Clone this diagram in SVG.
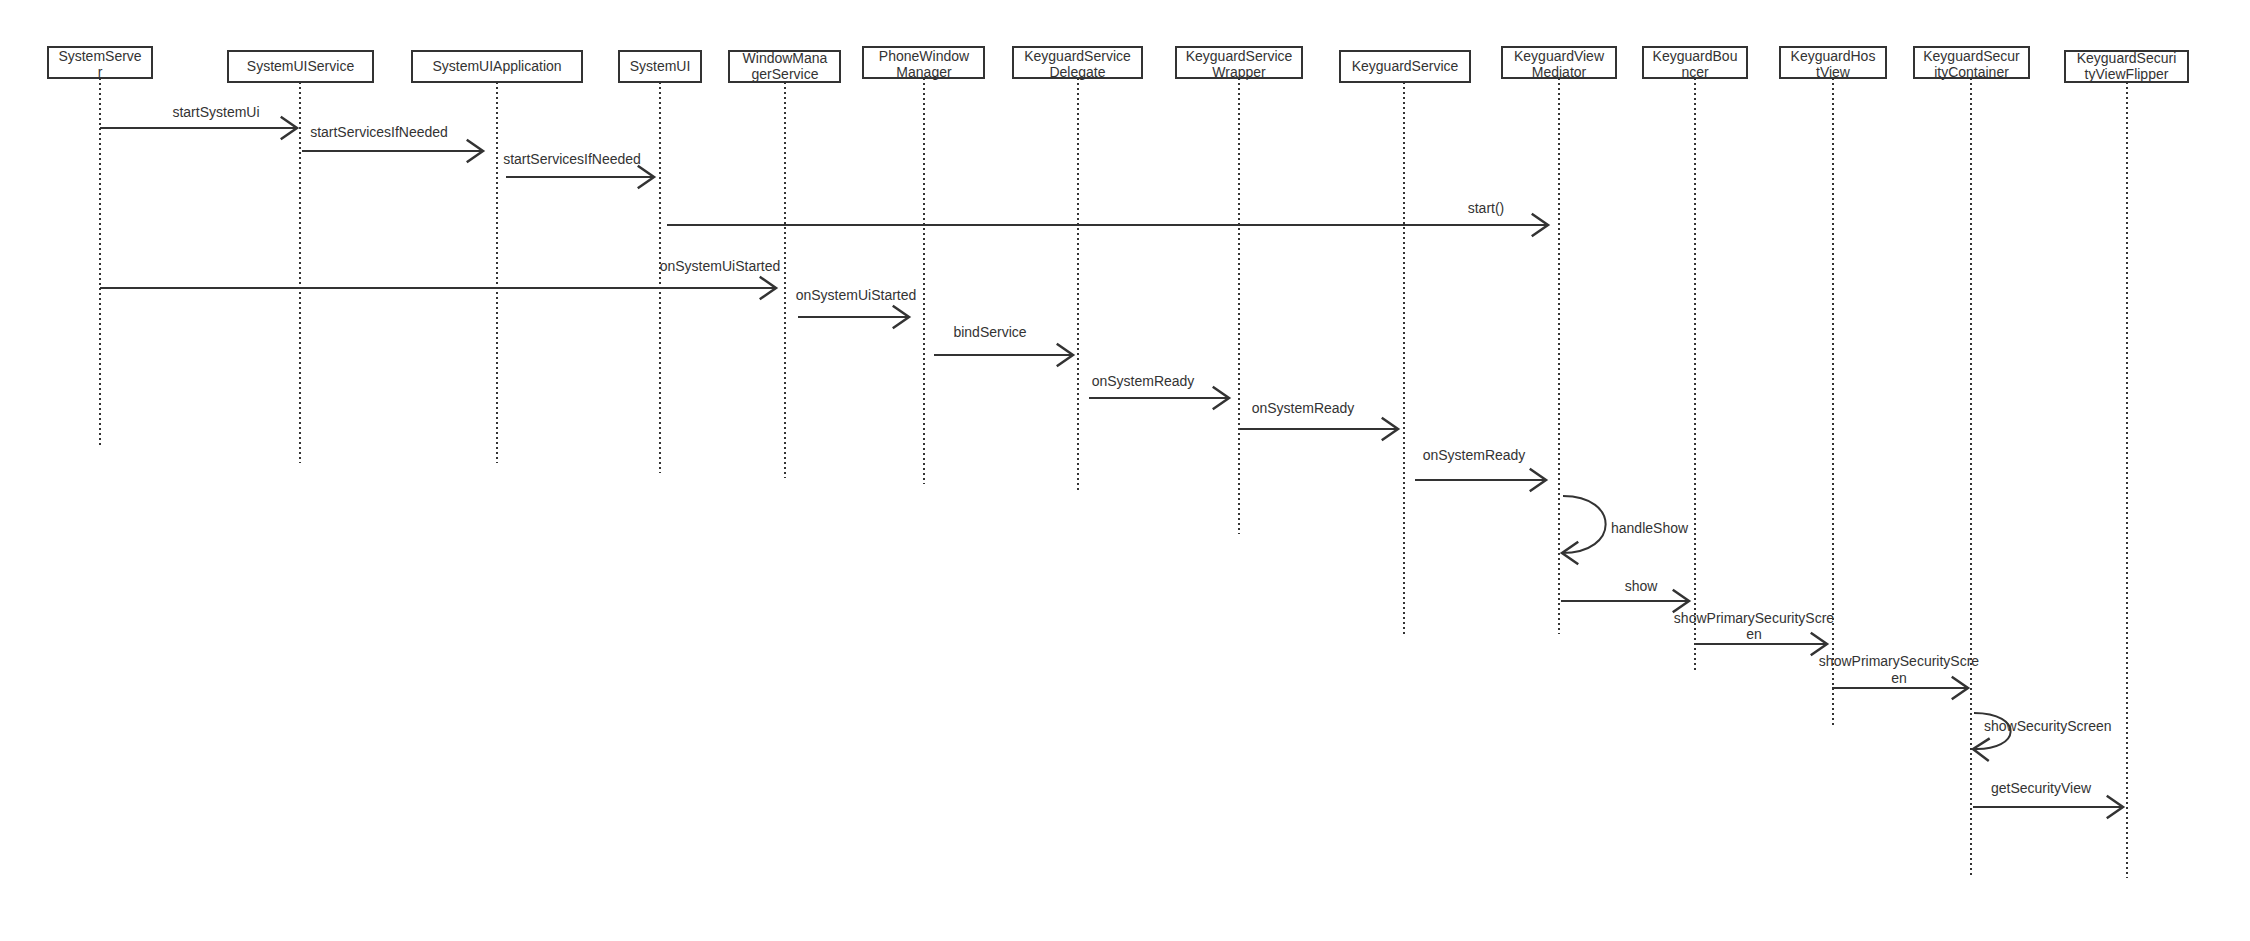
<svg xmlns="http://www.w3.org/2000/svg" width="2250" height="941" viewBox="0 0 2250 941">
<style>
.box{fill:#fff;stroke:#333;stroke-width:2}
.t{font-family:"Liberation Sans",Arial,sans-serif;font-size:14px;fill:#333;text-anchor:middle}
.ts{font-family:"Liberation Sans",Arial,sans-serif;font-size:14px;fill:#333;text-anchor:start}
.life{stroke:#333;stroke-width:2;stroke-dasharray:2,3;fill:none}
.msg{stroke:#333;stroke-width:2;fill:none;marker-end:url(#ah)}
</style>
<defs>
<marker id="ah" markerUnits="userSpaceOnUse" markerWidth="30" markerHeight="30" refX="0" refY="0" orient="auto" viewBox="-15 -12 20 24" overflow="visible">
<path d="M-13,-9 L0,0 L-13,9" fill="none" stroke="#333" stroke-width="2"/>
</marker>
</defs>
<rect width="2250" height="941" fill="#fff"/>
<g id="lifelines">
<line class="life" x1="100" y1="78" x2="100" y2="445"/>
<line class="life" x1="300" y1="82" x2="300" y2="463"/>
<line class="life" x1="497" y1="82" x2="497" y2="463"/>
<line class="life" x1="660" y1="82" x2="660" y2="473"/>
<line class="life" x1="785" y1="82" x2="785" y2="478"/>
<line class="life" x1="924" y1="78" x2="924" y2="484"/>
<line class="life" x1="1078" y1="78" x2="1078" y2="493"/>
<line class="life" x1="1239" y1="78" x2="1239" y2="534"/>
<line class="life" x1="1404" y1="82" x2="1404" y2="634"/>
<line class="life" x1="1559" y1="78" x2="1559" y2="634"/>
<line class="life" x1="1695" y1="78" x2="1695" y2="670"/>
<line class="life" x1="1833" y1="78" x2="1833" y2="725"/>
<line class="life" x1="1971" y1="78" x2="1971" y2="875"/>
<line class="life" x1="2127" y1="82" x2="2127" y2="878"/>
</g>
<g id="n-SystemServer"><rect class="box" x="48" y="47" width="104" height="31"/><text class="t" x="100" y="61">SystemServe</text><text class="t" x="100" y="77">r</text></g>
<g id="n-SystemUIService"><rect class="box" x="228" y="51" width="145" height="31"/><text class="t" x="300.5" y="71">SystemUIService</text></g>
<g id="n-SystemUIApplication"><rect class="box" x="412" y="51" width="170" height="31"/><text class="t" x="497" y="71">SystemUIApplication</text></g>
<g id="n-SystemUI"><rect class="box" x="619" y="51" width="82" height="31"/><text class="t" x="660" y="71">SystemUI</text></g>
<g id="n-WindowManagerService"><rect class="box" x="729" y="51" width="111" height="31"/><text class="t" x="785" y="63">WindowMana</text><text class="t" x="785" y="79">gerService</text></g>
<g id="n-PhoneWindowManager"><rect class="box" x="863" y="47" width="121" height="31"/><text class="t" x="924" y="61">PhoneWindow</text><text class="t" x="924" y="77">Manager</text></g>
<g id="n-KeyguardServiceDelegate"><rect class="box" x="1013" y="47" width="129" height="31"/><text class="t" x="1077.5" y="61">KeyguardService</text><text class="t" x="1077.5" y="77">Delegate</text></g>
<g id="n-KeyguardServiceWrapper"><rect class="box" x="1176" y="47" width="126" height="31"/><text class="t" x="1239" y="61">KeyguardService</text><text class="t" x="1239" y="77">Wrapper</text></g>
<g id="n-KeyguardService"><rect class="box" x="1340" y="51" width="130" height="31"/><text class="t" x="1405" y="71">KeyguardService</text></g>
<g id="n-KeyguardViewMediator"><rect class="box" x="1502" y="47" width="114" height="31"/><text class="t" x="1559" y="61">KeyguardView</text><text class="t" x="1559" y="77">Mediator</text></g>
<g id="n-KeyguardBouncer"><rect class="box" x="1643" y="47" width="104" height="31"/><text class="t" x="1695" y="61">KeyguardBou</text><text class="t" x="1695" y="77">ncer</text></g>
<g id="n-KeyguardHostView"><rect class="box" x="1780" y="47" width="106" height="31"/><text class="t" x="1833" y="61">KeyguardHos</text><text class="t" x="1833" y="77">tView</text></g>
<g id="n-KeyguardSecurityContainer"><rect class="box" x="1914" y="47" width="115" height="31"/><text class="t" x="1971.5" y="61">KeyguardSecur</text><text class="t" x="1971.5" y="77">ityContainer</text></g>
<g id="n-KeyguardSecurityViewFlipper"><rect class="box" x="2065" y="51" width="123" height="31"/><text class="t" x="2126.5" y="63">KeyguardSecuri</text><text class="t" x="2126.5" y="79">tyViewFlipper</text></g>
<g id="connectors">
<line class="msg" x1="100" y1="128" x2="297" y2="128"/>
<text class="t" x="216" y="117">startSystemUi</text>
<line class="msg" x1="302" y1="151" x2="483" y2="151"/>
<text class="t" x="379" y="137">startServicesIfNeeded</text>
<line class="msg" x1="506" y1="177" x2="654" y2="177"/>
<text class="t" x="572" y="164">startServicesIfNeeded</text>
<line class="msg" x1="667" y1="225" x2="1548" y2="225"/>
<text class="t" x="1486" y="213">start()</text>
<line class="msg" x1="100" y1="288" x2="776" y2="288"/>
<text class="t" x="720" y="271">onSystemUiStarted</text>
<line class="msg" x1="798" y1="317" x2="909" y2="317"/>
<text class="t" x="856" y="300">onSystemUiStarted</text>
<line class="msg" x1="934" y1="355" x2="1073" y2="355"/>
<text class="t" x="990" y="337">bindService</text>
<line class="msg" x1="1089" y1="398" x2="1229" y2="398"/>
<text class="t" x="1143" y="386">onSystemReady</text>
<line class="msg" x1="1238" y1="429" x2="1398" y2="429"/>
<text class="t" x="1303" y="413">onSystemReady</text>
<line class="msg" x1="1415" y1="480" x2="1546" y2="480"/>
<text class="t" x="1474" y="460">onSystemReady</text>
<path class="msg" d="M1563,496 C1620,496 1620,553 1562,553"/>
<text class="ts" x="1611" y="533">handleShow</text>
<line class="msg" x1="1561" y1="601" x2="1689" y2="601"/>
<text class="t" x="1641" y="591">show</text>
<line class="msg" x1="1696" y1="644" x2="1827" y2="644"/>
<text class="t" x="1754" y="623">showPrimarySecurityScre</text>
<text class="t" x="1754" y="639">en</text>
<line class="msg" x1="1832" y1="688" x2="1968" y2="688"/>
<text class="t" x="1899" y="666">showPrimarySecurityScre</text>
<text class="t" x="1899" y="683">en</text>
<path class="msg" d="M1974,713 C2024,713 2022,751 1973,749"/>
<text class="ts" x="1984" y="731">showSecurityScreen</text>
<line class="msg" x1="1973" y1="807" x2="2123" y2="807"/>
<text class="t" x="2041" y="793">getSecurityView</text>
</g>
</svg>
